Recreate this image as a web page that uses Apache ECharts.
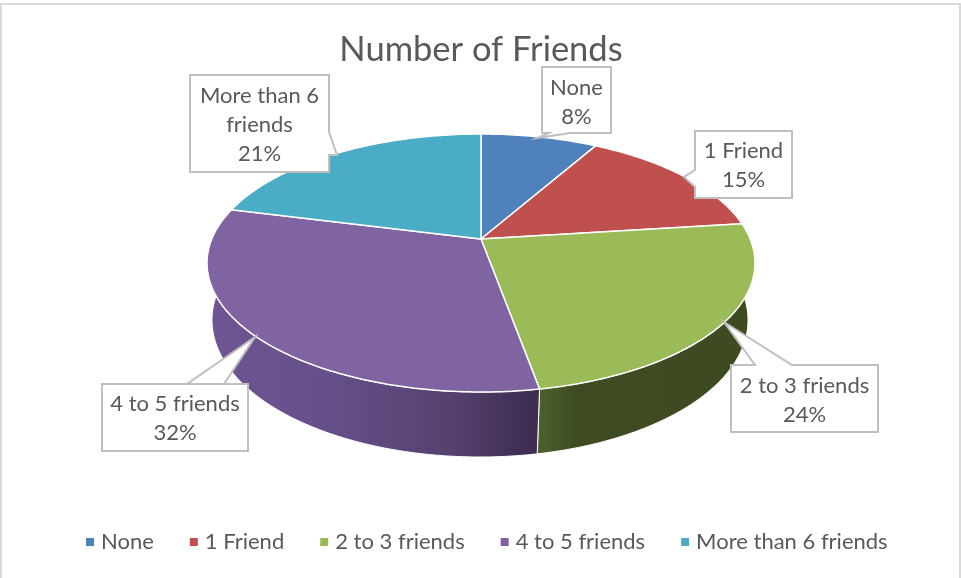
<!DOCTYPE html>
<html>
<head>
<meta charset="utf-8">
<title>Number of Friends</title>
<style>html,body{margin:0;padding:0;background:#fff}#chart{width:961px;height:578px}</style>
<script src="https://cdn.jsdelivr.net/npm/echarts@6/dist/echarts.min.js"></script>
</head>
<body>
<div id="chart"></div>
<script>
// Survey results: share of respondents per friend-count bracket.
const categories = ['None', '1 Friend', '2 to 3 friends', '4 to 5 friends', 'More than 6 friends'];
const shares = [8, 15, 24, 32, 21];
const labelNames = ['None', '1 Friend', '2 to 3 friends', '4 to 5 friends', 'More than 6\nfriends'];

const topColors = ['#4F81BD', '#C0504D', '#9BBB59', '#8064A2', '#4BACC6'];
const wallStops = [
  [[0, '#2F4D70'], [1, '#2F4D70']],
  [[0, '#722F2E'], [1, '#722F2E']],
  [[0, '#4C612C'], [0.17, '#3F4C23'], [1, '#3E4A22']],
  [[0, '#6F5593'], [0.35, '#65508A'], [0.75, '#54416E'], [0.95, '#402F53'], [1, '#3F2E52']],
  [[0, '#2D6676'], [1, '#2D6676']]
];
const wallSpan = [[481, 600], [481, 760], [538, 755], [207, 538], [207, 481]];

// Tilted disc: the slice centre sits above the middle of the upper rim,
// so spoke directions come from a perspective mapping of the unit circle.
const apex = { x: 481, y: 239 };
const persp = { a: 269, b: 124.6, kx: 0.14, ky: 0.186 };
// Rim ellipses of the upper and lower faces of the disc.
const upper = { x: 481, y: 263, rx: 274, ry: 129 };
const lower = { x: 480, y: 320, rx: 268, ry: 137 };

// Callout boxes: [left, top, right, bottom], tail outline and text centre.
const callouts = [
  { box: [542, 67, 611, 133], tail: [[570, 133], [537.5, 138], [549, 133]], side: 'bottom', cy: 102.5 },
  { box: [695, 131, 792, 198], tail: [[695, 170], [684, 177], [695, 187]], side: 'left', cy: 165.5 },
  { box: [731, 365, 878, 432], tail: [[792, 365], [724, 322], [755, 365]], side: 'top', cy: 400.5 },
  { box: [102, 384, 248, 451], tail: [[187, 384], [255, 337], [224, 384]], side: 'top', cy: 418.5 },
  { box: [190, 75, 329, 172], tail: [[329, 132], [337, 155], [329, 155]], side: 'right', cy: 125 }
];

const total = shares.reduce((s, v) => s + v, 0);
let running = 0;
const starts = shares.map(v => { const s = running; running += v; return s; });

// Where the spoke for a cumulative share meets the upper rim ellipse.
function rimPoint(share) {
  const t = share / total * 2 * Math.PI;
  const dx = persp.a * Math.sin(t) / (1 + persp.kx * Math.cos(t));
  const dy = -persp.b * Math.cos(t) / (1 + persp.ky * Math.cos(t));
  const ox = (apex.x - upper.x) / upper.rx, oy = (apex.y - upper.y) / upper.ry;
  const ux = dx / upper.rx, uy = dy / upper.ry;
  const A = ux * ux + uy * uy, B = 2 * (ox * ux + oy * uy), C = ox * ox + oy * oy - 1;
  const r = (-B + Math.sqrt(B * B - 4 * A * C)) / (2 * A);
  return [apex.x + dx * r, apex.y + dy * r];
}
function lowerPoint(p) {
  const u = (p[0] - upper.x) / upper.rx;
  const v = (p[1] - upper.y) / upper.ry;
  return [lower.x + lower.rx * u, lower.y + lower.ry * v];
}
function calloutPath(c) {
  const [l, t, r, b] = c.box;
  const tail = c.tail;
  if (c.side === 'top') return [[l, t], ...tail.slice().reverse(), [r, t], [r, b], [l, b]];
  if (c.side === 'right') return [[l, t], [r, t], ...tail, [r, b], [l, b]];
  if (c.side === 'bottom') return [[l, t], [r, t], [r, b], ...tail, [l, b]];
  return [[l, t], [r, t], [r, b], [l, b], ...tail.slice().reverse()];
}

function renderSlice(params, api) {
  const i = params.seriesIndex;
  const from = api.value(1);
  const to = from + api.value(0);
  const rim = [];
  const steps = Math.max(2, Math.round(api.value(0) * 3.6));
  for (let s = 0; s <= steps; s++) rim.push(rimPoint(from + (to - from) * s / steps));
  const base = rim.map(lowerPoint).reverse();
  const c = callouts[i];
  return {
    type: 'group',
    children: [
      {
        type: 'polygon', z2: 1, shape: { points: rim.concat(base) },
        style: {
          fill: new echarts.graphic.LinearGradient(wallSpan[i][0], 0, wallSpan[i][1], 0,
            wallStops[i].map(p => ({ offset: p[0], color: p[1] })), true),
          stroke: '#fff', lineWidth: 1
        }
      },
      {
        type: 'polygon', z2: 2, shape: { points: [[apex.x, apex.y]].concat(rim) },
        style: { fill: topColors[i], stroke: '#fff', lineWidth: 1.5, lineJoin: 'round' }
      },
      {
        type: 'polygon', z2: 3, shape: { points: calloutPath(c) },
        style: { fill: '#fff', stroke: '#BFBFBF', lineWidth: 2, lineJoin: 'miter' }
      },
      {
        type: 'text', z2: 4, x: (c.box[0] + c.box[2]) / 2, y: c.cy,
        style: {
          text: labelNames[i] + '\n' + api.value(0) + '%',
          align: 'center', verticalAlign: 'middle', lineHeight: 29,
          font: '22px Lato', fill: '#595959'
        }
      }
    ]
  };
}

const chart = echarts.init(document.getElementById('chart'), null, { renderer: 'canvas' });
chart.setOption({
  animation: false,
  backgroundColor: '#fff',
  title: {
    text: 'Number of Friends', left: 476, top: 27, textAlign: 'center',
    textStyle: { fontFamily: 'Lato', fontSize: 34.5, fontWeight: 'normal', color: '#595959' }
  },
  legend: {
    left: 86, top: 531, padding: 0, icon: 'rect', itemWidth: 8, itemHeight: 8, itemGap: 36,
    data: categories,
    textStyle: { fontFamily: 'Lato', fontSize: 22, color: '#595959', padding: [0, 0, 0, 2] }
  },
  graphic: [{
    type: 'rect', silent: true, z: -1,
    shape: { x: 1, y: 4, width: 959, height: 600 },
    style: { fill: 'none', stroke: '#D9D9D9', lineWidth: 2 }
  }],
  series: categories.map((name, i) => ({
    type: 'custom', name, coordinateSystem: 'none',
    itemStyle: { color: topColors[i] },
    renderItem: renderSlice,
    data: [[shares[i], starts[i]]]
  }))
});
</script>
</body>
</html>
